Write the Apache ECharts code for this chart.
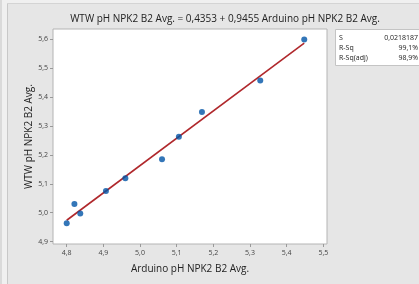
<!DOCTYPE html>
<html>
<head>
<meta charset="utf-8">
<title>WTW vs Arduino pH</title>
<style>
  html, body { margin: 0; padding: 0; background: #f4f4f4; }
  #page { width: 419px; height: 284px; }
</style>
</head>
<body>
<div id="page"></div>
<script src="https://cdn.jsdelivr.net/npm/echarts@6/dist/echarts.min.js"></script>
<script>
var arduinoPh = [4.800, 4.821, 4.837, 4.907, 4.960, 5.060, 5.106, 5.169, 5.328, 5.448];
var wtwPh = [4.964, 5.030, 4.997, 5.075, 5.119, 5.185, 5.262, 5.348, 5.457, 5.598];
var fitLine = [[4.800, 4.974], [5.448, 5.586]];
var xTicks = [4.8, 4.9, 5.0, 5.1, 5.2, 5.3, 5.4, 5.5];
var yTicks = [4.9, 5.0, 5.1, 5.2, 5.3, 5.4, 5.5, 5.6];
var statNames = ['S', 'R-Sq', 'R-Sq(adj)'];
var statValues = ['0,0218187', '99,1%', '98,9%'];

(function () {
    var font = "'Open Sans', 'Noto Sans', sans-serif";
    var chart = echarts.init(document.getElementById('page'));

    var points = arduinoPh.map(function (x, i) { return [x, wtwPh[i]]; });

    function comma(v) {
        return v.toFixed(1).replace('.', ',');
    }

    // stats box on the right
    var statGraphics = [{
        type: 'rect',
        shape: { x: 335.5, y: 29.5, width: 90, height: 36 },
        style: { fill: '#fff', stroke: '#c4c4c4', lineWidth: 1 }
    }];
    statNames.forEach(function (n, i) {
        statGraphics.push({
            type: 'text', x: 339, y: 37.5 + i * 10,
            style: { text: n, font: '7px ' + font, fill: '#222', verticalAlign: 'middle' }
        });
        statGraphics.push({
            type: 'text', x: 418, y: 37.5 + i * 10,
            style: { text: statValues[i], font: '7px ' + font, fill: '#222', align: 'right', verticalAlign: 'middle' }
        });
    });

    var axisCommon = {
        type: 'value',
        splitLine: { show: false },
        axisLine: { show: false },
        nameTextStyle: { color: '#222', fontSize: 10, fontFamily: font },
        nameLocation: 'middle',
        nameMoveOverlap: false
    };

    var option = {
        backgroundColor: '#e6e6e6',
        animation: false,
        title: {
            text: 'WTW pH NPK2 B2 Avg. = 0,4353 + 0,9455 Arduino pH NPK2 B2 Avg.',
            left: 220, top: 9, textAlign: 'center',
            textStyle: { color: '#222', fontSize: 10, fontWeight: 'normal', fontFamily: font }
        },
        grid: {
            left: 53, top: 29, right: 92, bottom: 40,
            show: true, backgroundColor: '#fff', borderColor: '#b4b4b4', borderWidth: 1
        },
        xAxis: Object.assign({}, axisCommon, {
            min: 4.7626, max: 5.5101,
            name: 'Arduino pH NPK2 B2 Avg.',
            nameGap: 20,
            axisTick: { show: true, length: 3, customValues: xTicks, lineStyle: { color: '#999' } },
            axisLabel: {
                customValues: xTicks, formatter: comma, margin: 5,
                color: '#444', fontSize: 7, fontFamily: font
            }
        }),
        yAxis: Object.assign({}, axisCommon, {
            min: 4.892, max: 5.6345,
            name: 'WTW pH NPK2 B2 Avg.',
            nameGap: 19,
            axisTick: { show: true, length: 3, customValues: yTicks, lineStyle: { color: '#999' } },
            axisLabel: {
                customValues: yTicks, formatter: comma, margin: 5,
                color: '#444', fontSize: 7, fontFamily: font
            }
        }),
        series: [
            {
                type: 'line',
                data: fitLine,
                symbol: 'none',
                lineStyle: { color: '#b0282c', width: 1.6 },
                z: 2
            },
            {
                type: 'scatter',
                data: points,
                symbolSize: 6,
                itemStyle: { color: '#0054a6' },
                z: 3
            }
        ],
        graphic: [
            { type: 'rect', shape: { x: 0, y: 0, width: 419, height: 3 }, style: { fill: '#f0f0f0' } },
            { type: 'rect', shape: { x: 0, y: 0, width: 7, height: 284 }, style: { fill: '#f0f0f0' } },
            { type: 'rect', shape: { x: 0, y: 0, width: 2, height: 284 }, style: { fill: '#dadada' } },
            { type: 'line', shape: { x1: 7.5, y1: 3, x2: 7.5, y2: 284 }, style: { stroke: '#c8c8c8', lineWidth: 1 } },
            { type: 'line', shape: { x1: 7, y1: 3.5, x2: 419, y2: 3.5 }, style: { stroke: '#d4d4d4', lineWidth: 1 } }
        ].concat(statGraphics)
    };
    chart.setOption(option);
})();
</script>
</body>
</html>
